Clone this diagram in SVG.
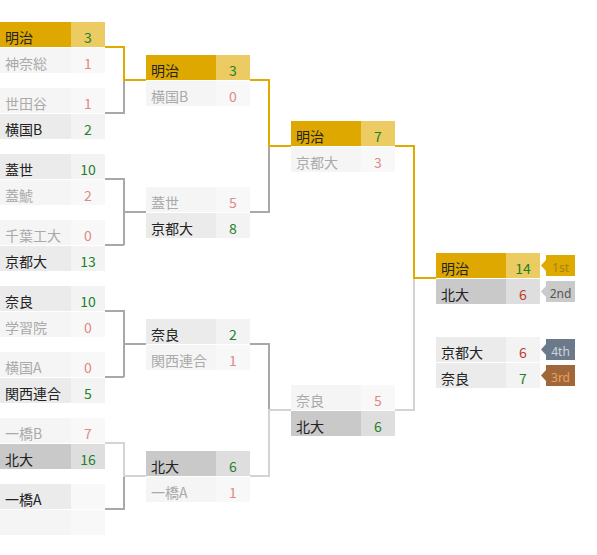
<svg xmlns="http://www.w3.org/2000/svg" width="597" height="555" viewBox="0 0 597 555">
<style>
text{font-family:"Noto Sans CJK JP","Noto Sans",sans-serif;font-size:14px}
.sc{text-anchor:middle}
.ng{fill:#dea800}.sg{fill:#ebcb62}
.nw{fill:#ebebeb}.sw{fill:#f3f3f3}
.nl{fill:#f5f5f5}.sl{fill:#f8f8f8}
.nh{fill:#c9c9c9}.sh{fill:#dedede}
.tw{fill:#222}.tl{fill:#aaa}
.cg{fill:#23802a}.cl{fill:#e08888}.cr{fill:#c0392b}
.lk{fill:none;stroke-width:2}
.gold{stroke:#e0aa00}.gray{stroke:#a8a8a8}.lite{stroke:#d4d4d4}
.badge{font-family:"Noto Sans","DejaVu Sans",sans-serif;font-size:12px;text-anchor:middle}
</style>
<rect width="597" height="555" fill="#fff"/>
<g id="connectors">
<path class="lk gray" d="M105,113H124V80"/>
<path class="lk gold" d="M105,47H124V80H146"/>
<path class="lk gray" d="M105,179H124V245M105,245H124M124,212H146"/>
<path class="lk gray" d="M105,311H124V377M105,377H124M124,344H146"/>
<path class="lk gray" d="M105,509H124V476"/>
<path class="lk lite" d="M105,443H124V476H146"/>
<path class="lk gray" d="M250,212H269V146"/>
<path class="lk gold" d="M250,80H269V146H291"/>
<path class="lk gray" d="M250,344H269V410"/>
<path class="lk lite" d="M250,476H269V410H291"/>
<path class="lk lite" d="M395,410H414V278"/>
<path class="lk gold" d="M395,146H414V278H436"/>
</g>
<g id="r1m1">
<rect class="ng" x="0" y="22" width="71" height="25"/><rect class="sg" x="71" y="22" width="34" height="25"/>
<text class="tw" x="5" y="43">明治</text><text class="sc cg" x="88" y="43">3</text>
<rect class="nl" x="0" y="48" width="71" height="25"/><rect class="sl" x="71" y="48" width="34" height="25"/>
<text class="tl" x="5" y="69">神奈総</text><text class="sc cl" x="88" y="69">1</text>
</g>
<g id="r1m2">
<rect class="nl" x="0" y="88" width="71" height="25"/><rect class="sl" x="71" y="88" width="34" height="25"/>
<text class="tl" x="5" y="109">世田谷</text><text class="sc cl" x="88" y="109">1</text>
<rect class="nw" x="0" y="114" width="71" height="25"/><rect class="sw" x="71" y="114" width="34" height="25"/>
<text class="tw" x="5" y="135">横国B</text><text class="sc cg" x="88" y="135">2</text>
</g>
<g id="r1m3">
<rect class="nw" x="0" y="154" width="71" height="25"/><rect class="sw" x="71" y="154" width="34" height="25"/>
<text class="tw" x="5" y="175">蓋世</text><text class="sc cg" x="88" y="175">10</text>
<rect class="nl" x="0" y="180" width="71" height="25"/><rect class="sl" x="71" y="180" width="34" height="25"/>
<text class="tl" x="5" y="201">蓋鯱</text><text class="sc cl" x="88" y="201">2</text>
</g>
<g id="r1m4">
<rect class="nl" x="0" y="220" width="71" height="25"/><rect class="sl" x="71" y="220" width="34" height="25"/>
<text class="tl" x="5" y="241">千葉工大</text><text class="sc cl" x="88" y="241">0</text>
<rect class="nw" x="0" y="246" width="71" height="25"/><rect class="sw" x="71" y="246" width="34" height="25"/>
<text class="tw" x="5" y="267">京都大</text><text class="sc cg" x="88" y="267">13</text>
</g>
<g id="r1m5">
<rect class="nw" x="0" y="286" width="71" height="25"/><rect class="sw" x="71" y="286" width="34" height="25"/>
<text class="tw" x="5" y="307">奈良</text><text class="sc cg" x="88" y="307">10</text>
<rect class="nl" x="0" y="312" width="71" height="25"/><rect class="sl" x="71" y="312" width="34" height="25"/>
<text class="tl" x="5" y="333">学習院</text><text class="sc cl" x="88" y="333">0</text>
</g>
<g id="r1m6">
<rect class="nl" x="0" y="352" width="71" height="25"/><rect class="sl" x="71" y="352" width="34" height="25"/>
<text class="tl" x="5" y="373">横国A</text><text class="sc cl" x="88" y="373">0</text>
<rect class="nw" x="0" y="378" width="71" height="25"/><rect class="sw" x="71" y="378" width="34" height="25"/>
<text class="tw" x="5" y="399">関西連合</text><text class="sc cg" x="88" y="399">5</text>
</g>
<g id="r1m7">
<rect class="nl" x="0" y="418" width="71" height="25"/><rect class="sl" x="71" y="418" width="34" height="25"/>
<text class="tl" x="5" y="439">一橋B</text><text class="sc cl" x="88" y="439">7</text>
<rect class="nh" x="0" y="444" width="71" height="25"/><rect class="sh" x="71" y="444" width="34" height="25"/>
<text class="tw" x="5" y="465">北大</text><text class="sc cg" x="88" y="465">16</text>
</g>
<g id="r1m8">
<rect class="nw" x="0" y="484" width="71" height="25"/><rect class="sl" x="71" y="484" width="34" height="25"/>
<text class="tw" x="5" y="505">一橋A</text>
<rect class="nl" x="0" y="510" width="71" height="25"/><rect class="sl" x="71" y="510" width="34" height="25"/>
</g>
<g id="r2m1">
<rect class="ng" x="146" y="55" width="70" height="25"/><rect class="sg" x="216" y="55" width="34" height="25"/>
<text class="tw" x="151" y="76">明治</text><text class="sc cg" x="233" y="76">3</text>
<rect class="nl" x="146" y="81" width="70" height="25"/><rect class="sl" x="216" y="81" width="34" height="25"/>
<text class="tl" x="151" y="102">横国B</text><text class="sc cl" x="233" y="102">0</text>
</g>
<g id="r2m2">
<rect class="nl" x="146" y="187" width="70" height="25"/><rect class="sl" x="216" y="187" width="34" height="25"/>
<text class="tl" x="151" y="208">蓋世</text><text class="sc cl" x="233" y="208">5</text>
<rect class="nw" x="146" y="213" width="70" height="25"/><rect class="sw" x="216" y="213" width="34" height="25"/>
<text class="tw" x="151" y="234">京都大</text><text class="sc cg" x="233" y="234">8</text>
</g>
<g id="r2m3">
<rect class="nw" x="146" y="319" width="70" height="25"/><rect class="sw" x="216" y="319" width="34" height="25"/>
<text class="tw" x="151" y="340">奈良</text><text class="sc cg" x="233" y="340">2</text>
<rect class="nl" x="146" y="345" width="70" height="25"/><rect class="sl" x="216" y="345" width="34" height="25"/>
<text class="tl" x="151" y="366">関西連合</text><text class="sc cl" x="233" y="366">1</text>
</g>
<g id="r2m4">
<rect class="nh" x="146" y="451" width="70" height="25"/><rect class="sh" x="216" y="451" width="34" height="25"/>
<text class="tw" x="151" y="472">北大</text><text class="sc cg" x="233" y="472">6</text>
<rect class="nl" x="146" y="477" width="70" height="25"/><rect class="sl" x="216" y="477" width="34" height="25"/>
<text class="tl" x="151" y="498">一橋A</text><text class="sc cl" x="233" y="498">1</text>
</g>
<g id="r3m1">
<rect class="ng" x="291" y="121" width="70" height="25"/><rect class="sg" x="361" y="121" width="34" height="25"/>
<text class="tw" x="296" y="142">明治</text><text class="sc cg" x="378" y="142">7</text>
<rect class="nl" x="291" y="147" width="70" height="25"/><rect class="sl" x="361" y="147" width="34" height="25"/>
<text class="tl" x="296" y="168">京都大</text><text class="sc cl" x="378" y="168">3</text>
</g>
<g id="r3m2">
<rect class="nl" x="291" y="385" width="70" height="25"/><rect class="sl" x="361" y="385" width="34" height="25"/>
<text class="tl" x="296" y="406">奈良</text><text class="sc cl" x="378" y="406">5</text>
<rect class="nh" x="291" y="411" width="70" height="25"/><rect class="sh" x="361" y="411" width="34" height="25"/>
<text class="tw" x="296" y="432">北大</text><text class="sc cg" x="378" y="432">6</text>
</g>
<g id="final">
<rect class="ng" x="436" y="253" width="70" height="25"/><rect class="sg" x="506" y="253" width="34" height="25"/>
<text class="tw" x="441" y="274">明治</text><text class="sc cg" x="523" y="274">14</text>
<rect class="nh" x="436" y="279" width="70" height="25"/><rect class="sh" x="506" y="279" width="34" height="25"/>
<text class="tw" x="441" y="300">北大</text><text class="sc cr" x="523" y="300">6</text>
<path d="M546,260L541,265.5L546,271Z" fill="#dfaa00"/><rect x="546" y="255" width="29" height="21" fill="#dfaa00"/>
<text class="badge" x="560.5" y="271.5" fill="#a88010">1st</text>
<path d="M546,286L541,291.5L546,297Z" fill="#cacaca"/><rect x="546" y="281" width="29" height="21" fill="#cacaca"/>
<text class="badge" x="560.5" y="297.5" fill="#555">2nd</text>
</g>
<g id="third">
<rect class="nw" x="436" y="337" width="70" height="25"/><rect class="sw" x="506" y="337" width="34" height="25"/>
<text class="tw" x="441" y="358">京都大</text><text class="sc cr" x="523" y="358">6</text>
<rect class="nw" x="436" y="363" width="70" height="25"/><rect class="sw" x="506" y="363" width="34" height="25"/>
<text class="tw" x="441" y="384">奈良</text><text class="sc cg" x="523" y="384">7</text>
<path d="M546,344L541,349.5L546,355Z" fill="#6b7a8b"/><rect x="546" y="339" width="29" height="21" fill="#6b7a8b"/>
<text class="badge" x="560.5" y="355.5" fill="#cdd4dc">4th</text>
<path d="M546,370L541,375.5L546,381Z" fill="#a0683a"/><rect x="546" y="365" width="29" height="21" fill="#a0683a"/>
<text class="badge" x="560.5" y="381.5" fill="#e8a060">3rd</text>
</g>
</svg>
